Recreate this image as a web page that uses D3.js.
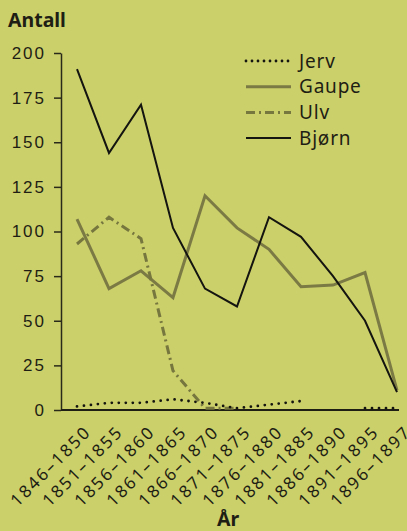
<!DOCTYPE html>
<html>
<head>
<meta charset="utf-8">
<script src="https://cdn.jsdelivr.net/npm/d3@7"></script>
<style>
  body { margin: 0; background: #ccd06a; }
  svg { display: block; font-family: "Noto Sans", sans-serif; }
</style>
</head>
<body>
<div id="chart"></div>
<script>
// periods on the x axis
var perioder = ["1846–1850", "1851–1855", "1856–1860", "1861–1865", "1866–1870", "1871–1875",
                "1876–1880", "1881–1885", "1886–1890", "1891–1895", "1896–1897"];

// counts per species (null = no data)
var jerv  = [2, 4, 4, 6, 4, 1, 3, 5, null, 1, 1];
var gaupe = [107, 68, 78, 63, 120, 102, 90, 69, 70, 77, 11];
var ulv   = [93, 108, 96, 22, 1, 1, null, null, null, null, null];
var bjorn = [191, 144, 171, 102, 68, 58, 108, 97, 75, 50, 10];

var yTicks = [0, 25, 50, 75, 100, 125, 150, 175, 200];

var width = 407, height = 531;

var svg = d3.select("#chart").append("svg")
    .attr("width", width)
    .attr("height", height);

svg.append("rect").attr("width", width).attr("height", height).attr("fill", "#ccd06a");

var x = d3.scalePoint().domain(perioder).range([77, 397]);
var y = d3.scaleLinear().domain([0, 200]).range([410, 53]);

// y axis
var yAxis = svg.append("g")
    .attr("transform", "translate(61,0)")
    .call(d3.axisLeft(y).tickValues(yTicks).tickSizeInner(7).tickSizeOuter(0).tickPadding(8));
yAxis.select(".domain").attr("stroke", "#2a2a1a").attr("stroke-width", 1.5);
yAxis.selectAll(".tick line").attr("stroke", "#2a2a1a").attr("stroke-width", 1.5);
yAxis.selectAll(".tick text")
    .attr("fill", "#1e1e14")
    .style("font-size", "17px")
    .style("letter-spacing", "2px");

// x axis line
svg.append("line")
    .attr("x1", 61).attr("x2", 399)
    .attr("y1", y(0)).attr("y2", y(0))
    .attr("stroke", "#1e1e14").attr("stroke-width", 2);

// x tick labels, rotated
svg.selectAll(".xlab")
    .data(perioder)
    .enter().append("text")
    .attr("class", "xlab")
    .attr("transform", function(d) { return "translate(" + (x(d) + 15) + ",433) rotate(-45)"; })
    .attr("text-anchor", "end")
    .attr("fill", "#1e1e14")
    .style("font-size", "17px")
    .style("letter-spacing", "2.1px")
    .text(function(d) { return d; });

var serier = [
  {navn: "Jerv",  verdier: jerv,  farge: "#141410", bredde: 2.8, dash: "0,7",      cap: "round"},
  {navn: "Gaupe", verdier: gaupe, farge: "#7b7a45", bredde: 3,   dash: null,       cap: "butt"},
  {navn: "Ulv",   verdier: ulv,   farge: "#76763f", bredde: 3,   dash: "9,4,2,4",  cap: "butt"},
  {navn: "Bjørn", verdier: bjorn, farge: "#141410", bredde: 2,   dash: null,       cap: "butt"}
];

var line = d3.line()
    .defined(function(d) { return d.v != null; })
    .x(function(d) { return x(d.p); })
    .y(function(d) { return y(d.v); });

// draw in back-to-front order: Gaupe, Ulv, Bjørn, Jerv
[1, 2, 3, 0].forEach(function(i) {
  var s = serier[i];
  var pts = perioder.map(function(p, j) { return {p: p, v: s.verdier[j]}; });
  svg.append("path")
      .datum(pts)
      .attr("d", line)
      .attr("fill", "none")
      .attr("stroke", s.farge)
      .attr("stroke-width", s.bredde)
      .attr("stroke-dasharray", s.dash)
      .attr("stroke-linecap", s.cap)
      .attr("stroke-linejoin", "miter");
});

// legend
var legend = svg.selectAll(".leg")
    .data(serier)
    .enter().append("g")
    .attr("class", "leg")
    .attr("transform", function(d, i) { return "translate(246," + (61 + i * 25.7) + ")"; });

legend.append("line")
    .attr("x1", 0).attr("x2", 45)
    .attr("y1", 0).attr("y2", 0)
    .attr("stroke", function(d) { return d.farge; })
    .attr("stroke-width", function(d) { return d.bredde; })
    .attr("stroke-dasharray", function(d) { return d.navn == "Jerv" ? "0,6" : d.dash; })
    .attr("stroke-linecap", function(d) { return d.cap; });

legend.append("text")
    .attr("x", 53)
    .attr("y", 0)
    .attr("dy", "0.35em")
    .attr("fill", "#1e1e14")
    .style("font-size", "19px")
    .style("letter-spacing", "0.8px")
    .text(function(d) { return d.navn; });

// titles
svg.append("text")
    .attr("x", 8).attr("y", 27)
    .attr("fill", "#1e1e14")
    .style("font-size", "19.5px")
    .style("font-weight", "bold")
    .text("Antall");

svg.append("text")
    .attr("x", 228).attr("y", 526)
    .attr("text-anchor", "middle")
    .attr("fill", "#1e1e14")
    .style("font-size", "19.5px")
    .style("font-weight", "bold")
    .text("År");
</script>
</body>
</html>
